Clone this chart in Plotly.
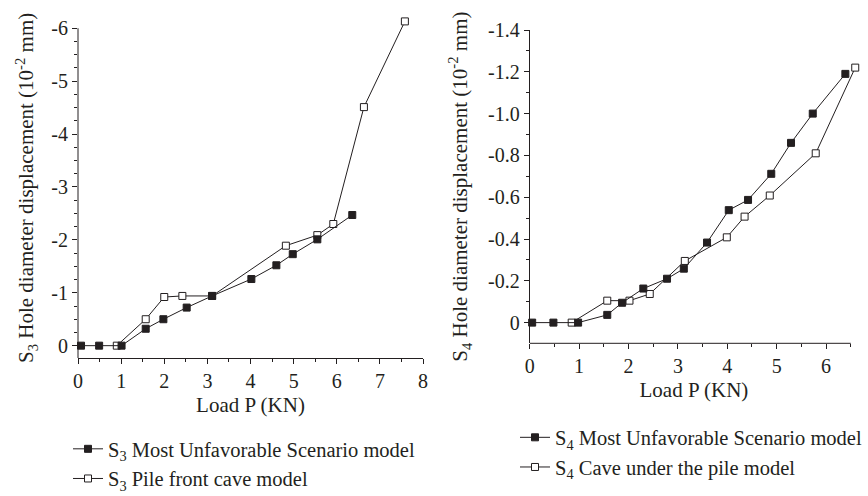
import plotly.graph_objects as go

# Left panel: S3 measurement point
s3_load_worst = [0.07, 0.49, 1.01, 1.57, 1.98, 2.52, 3.11, 4.02, 4.60, 4.98, 5.55, 6.36]
s3_disp_worst = [0, 0, 0, -0.32, -0.50, -0.72, -0.94, -1.26, -1.52, -1.73, -2.01, -2.47]
s3_load_cave = [0.90, 1.57, 2.00, 2.42, 3.11, 4.82, 5.55, 5.92, 6.63, 7.58]
s3_disp_cave = [0, -0.50, -0.92, -0.94, -0.94, -1.89, -2.09, -2.30, -4.51, -6.13]

# Right panel: S4 measurement point
s4_load_worst = [0.05, 0.48, 0.98, 1.57, 1.87, 2.30, 2.78, 3.12, 3.59, 4.03, 4.42, 4.89, 5.29, 5.73, 6.39]
s4_disp_worst = [0, 0, 0, -0.037, -0.095, -0.163, -0.21, -0.258, -0.383, -0.538, -0.587, -0.712, -0.86, -1.0, -1.19]
s4_load_cave = [0.85, 1.57, 2.02, 2.43, 3.14, 3.99, 4.35, 4.86, 5.79, 6.59]
s4_disp_cave = [0, -0.105, -0.105, -0.137, -0.295, -0.408, -0.507, -0.608, -0.81, -1.22]

# Tick labels
s3_yticks = [0, -1, -2, -3, -4, -5, -6]
s3_yticktext = ["0", "-1", "-2", "-3", "-4", "-5", "-6"]
s4_yticks = [0, -0.2, -0.4, -0.6, -0.8, -1.0, -1.2, -1.4]
s4_yticktext = ["0", "-0.2", "-0.4", "-0.6", "-0.8", "-1.0", "-1.2", "-1.4"]

INK = "#231f20"
FONT = "Liberation Serif"
FS = 21
LEGEND_FS = 20.5
TICK_FS = 20
W, H = 868, 496


def px_x(p):
    return p / W


def px_y(p):
    return 1 - p / H


def marker(filled):
    return dict(symbol="square", size=7,
                color=INK if filled else "white",
                line=dict(color=INK, width=1))


fig = go.Figure()

series = [
    (s3_load_cave, s3_disp_cave, "S<sub>3</sub> Pile front cave model", False, "x", "y", "legend", 2),
    (s3_load_worst, s3_disp_worst, "S<sub>3</sub> Most Unfavorable Scenario model", True, "x", "y", "legend", 1),
    (s4_load_cave, s4_disp_cave, "S<sub>4</sub> Cave under the pile model", False, "x2", "y2", "legend2", 2),
    (s4_load_worst, s4_disp_worst, "S<sub>4</sub> Most Unfavorable Scenario model", True, "x2", "y2", "legend2", 1),
]
for xs, ys, name, filled, xa, ya, lg, rank in series:
    fig.add_trace(go.Scatter(
        x=xs, y=ys, name=name, mode="lines+markers",
        line=dict(color=INK, width=1), marker=marker(filled),
        xaxis=xa, yaxis=ya, legend=lg, legendrank=rank, cliponaxis=False,
    ))

axis_common = dict(
    showline=True, linecolor=INK, linewidth=1, showgrid=False, zeroline=False,
    ticks="outside", ticklen=5, tickwidth=1, tickcolor=INK,
    tickfont=dict(family=FONT, size=TICK_FS, color=INK),
)
title_font = dict(family=FONT, size=FS, color=INK)
legend_common = dict(xanchor="left", yanchor="top", bgcolor="rgba(0,0,0,0)",
                     borderwidth=0, itemwidth=30, tracegroupgap=0,
                     font=dict(family=FONT, size=LEGEND_FS, color=INK))

# Axis extents: the left value axis stops at -6 and the right load axis at 6.5,
# while the plotting ranges leave room for the last markers beyond them.
S3_Y_BOTTOM, S3_Y_TOP, S3_Y_RANGE_TOP = 0.233, -6, -6.2
S4_X_END, S4_X_RANGE_END = 6.5, 6.65

fig.update_layout(
    width=W, height=H, margin=dict(l=0, r=0, t=0, b=0, autoexpand=False),
    paper_bgcolor="white", plot_bgcolor="white",
    font=dict(family=FONT, size=FS, color=INK),
    xaxis=dict(axis_common, domain=[px_x(78), px_x(423)], range=[0, 8],
               tickmode="linear", tick0=0, dtick=1,
               minor=dict(tickmode="linear", tick0=0, dtick=0.5, ticks="outside", ticklen=3, tickcolor=INK),
               title=dict(text="Load P (KN)", font=title_font, standoff=6),
               anchor="y"),
    yaxis=dict(axis_common, domain=[px_y(358), px_y(17.7)], range=[S3_Y_BOTTOM, S3_Y_RANGE_TOP],
               showline=False,
               tickmode="array", tickvals=s3_yticks, ticktext=s3_yticktext,
               minor=dict(tickmode="linear", tick0=0, dtick=0.25, ticks="outside", ticklen=3, tickcolor=INK),
               title=dict(text="S<sub>3</sub> Hole diameter displacement (10<sup>-2</sup> mm)",
                          font=title_font, standoff=11),
               anchor="x"),
    xaxis2=dict(axis_common, domain=[px_x(529.7), px_x(858.2)], range=[0, S4_X_RANGE_END],
                showline=False,
                tickmode="linear", tick0=0, dtick=1,
                minor=dict(tickmode="linear", tick0=0, dtick=0.5, ticks="outside", ticklen=3, tickcolor=INK),
                title=dict(text="Load P (KN)", font=title_font, standoff=6),
                anchor="y2"),
    yaxis2=dict(axis_common, domain=[px_y(343.3), px_y(30)], range=[0.099, -1.4],
                tickmode="array", tickvals=s4_yticks, ticktext=s4_yticktext,
                minor=dict(tickmode="linear", tick0=0, dtick=0.1, ticks="outside", ticklen=3, tickcolor=INK),
                title=dict(text="S<sub>4</sub> Hole diameter displacement (10<sup>-2</sup> mm)",
                           font=title_font, standoff=14),
                anchor="x2"),
    legend=dict(legend_common, x=px_x(68), y=px_y(429)),
    legend2=dict(legend_common, x=px_x(515), y=px_y(417.5)),
    showlegend=True,
    shapes=[
        dict(type="line", xref="x domain", x0=0, x1=0, yref="y",
             y0=S3_Y_BOTTOM, y1=S3_Y_TOP, line=dict(color=INK, width=1), layer="above"),
        dict(type="line", xref="x2", x0=0, x1=S4_X_END, yref="y2 domain",
             y0=0, y1=0, line=dict(color=INK, width=1), layer="above"),
    ],
)

fig.write_html("out.html")
